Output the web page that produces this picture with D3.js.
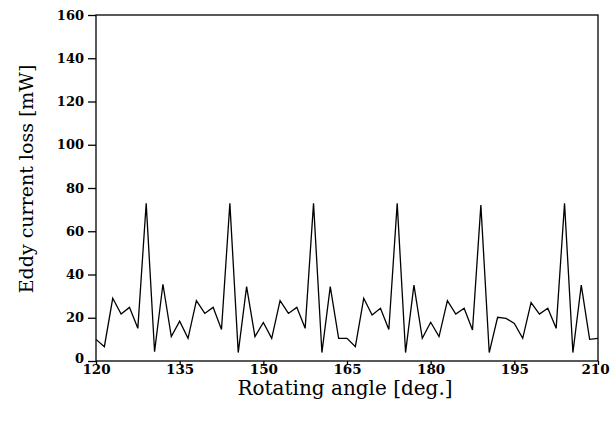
<!DOCTYPE html>
<html>
<head>
<meta charset="utf-8">
<script src="https://cdn.jsdelivr.net/npm/d3@7"></script>
<style>
  body { margin: 0; background: #fff; }
  svg { display: block; }
  .title { font-family: "DejaVu Serif", serif; font-size: 19px; }
  .tick text { font-family: "DejaVu Serif", serif; font-weight: bold; fill: #000; }
</style>
</head>
<body>
<script>
// rotating angle, one sample every 1.5 deg
var angles = d3.range(61).map(function(i) { return 120 + i * 1.5; });
// eddy current loss [mW]
var losses = [10, 6.6, 29, 21.7, 24.8, 15.1, 72.9, 4.3, 35.5, 11.3,
              18.4, 10.5, 27.9, 22, 24.8, 14.6, 72.9, 3.9, 34.4, 11.3,
              17.8, 10.5, 27.9, 22, 24.8, 15.1, 72.9, 3.9, 34.4, 10.5,
              10.5, 6.6, 29, 21.3, 24.4, 14.6, 72.9, 3.9, 35.1, 10.5,
              17.9, 11.3, 27.9, 21.7, 24.4, 14.3, 72.1, 3.9, 20.2, 19.7,
              17.4, 10.5, 27, 21.7, 24.4, 15.1, 72.9, 3.9, 35.1, 10,
              10.5];
var xTicks = [120, 135, 150, 165, 180, 195, 210];
var yTicks = [0, 20, 40, 60, 80, 100, 120, 140, 160];

initialElement();

function initialElement() {
  var w = 611;
  var h = 421;
  var left = 96, right = 598, top = 15, bottom = 361;

  var svg = d3.select("body").append("svg")
    .attr("width", w).attr("height", h);

  var x = d3.scaleLinear().domain([120, 210]).range([left, right]);
  var y = d3.scaleLinear().domain([0, 160]).range([bottom, top]);

  // 枠
  svg.append("rect")
    .attr("x", left).attr("y", top)
    .attr("width", right - left).attr("height", bottom - top)
    .attr("fill", "none").attr("stroke", "#000").attr("stroke-width", 1.3);

  var yAxis = svg.append("g")
    .attr("transform", "translate(" + left + ",0)")
    .call(d3.axisLeft(y).tickValues(yTicks).tickSize(8).tickPadding(4));
  yAxis.select(".domain").remove();
  yAxis.selectAll("text").attr("font-size", 13);
  // 0 のラベルは少し上に
  yAxis.selectAll("text").filter(function(d) { return d === 0; }).attr("dy", "0.1em");
  yAxis.selectAll("line").attr("stroke", "#000").attr("stroke-width", 1.3);

  var xAxis = svg.append("g")
    .attr("transform", "translate(0," + bottom + ")")
    .call(d3.axisBottom(x).tickValues(xTicks).tickSize(4).tickPadding(0));
  xAxis.select(".domain").remove();
  xAxis.selectAll("text").attr("font-size", 13.5).attr("dy", "0.65em");
  // 右端のラベルがはみ出さないように
  xAxis.selectAll("text").filter(function(d) { return d === 210; }).attr("x", -3);
  xAxis.selectAll("line").attr("stroke", "#000").attr("stroke-width", 1.3);

  // 曲線
  var line = d3.line()
    .x(function(d, i) { return x(angles[i]); })
    .y(function(d) { return y(d); });

  svg.append("path")
    .datum(losses)
    .attr("d", line)
    .attr("fill", "none")
    .attr("stroke", "#000")
    .attr("stroke-width", 1.3);

  // 軸ラベル
  svg.append("text")
    .attr("class", "title")
    .attr("x", 345).attr("y", 395)
    .attr("text-anchor", "middle")
    .style("font-size", "20px")
    .text("Rotating angle [deg.]");

  svg.append("text")
    .attr("class", "title")
    .attr("transform", "translate(33,179) rotate(-90)")
    .attr("text-anchor", "middle")
    .text("Eddy current loss [mW]");
}
</script>
</body>
</html>
